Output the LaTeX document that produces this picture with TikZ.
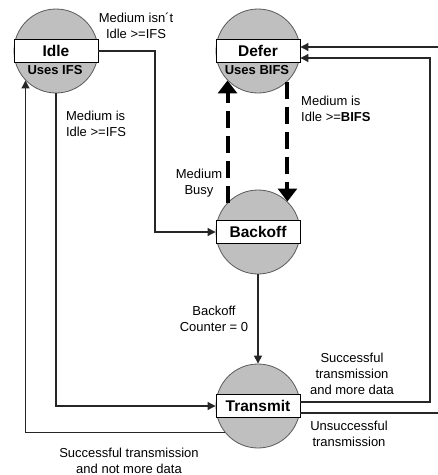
\documentclass[tikz,border=0pt]{standalone}
\usepackage{fontspec}
\setmainfont{Liberation Sans}
\usetikzlibrary{arrows.meta,calc}
\begin{document}
\begin{tikzpicture}[x=1pt,y=-1pt,
 state/.style={circle,draw=black!65,fill=black!25,line width=0.8pt,minimum size=84pt,inner sep=0},
 box/.style={draw=black,fill=white,line width=0.9pt,minimum width=84pt,minimum height=23pt,inner sep=0,font=\bfseries\fontsize{15.5}{18}\selectfont},
 sub/.style={font=\bfseries\fontsize{13}{15}\selectfont,inner sep=0},
 lbl/.style={font=\fontsize{13}{16}\selectfont,align=center,inner sep=0},
 conn/.style={draw=black!85,line width=1.1pt,-{Triangle[length=8pt,width=8pt]}},
 plain/.style={draw=black!85,line width=1.1pt},
 dashline/.style={draw=black,line width=4pt,dash pattern=on 17pt off 8pt,-{Triangle[length=13pt,width=19pt]}}]
\useasboundingbox (0,0) rectangle (438,475);
\fill[white] (0,0) rectangle (438,475);
% states
\node[state] (idle) at (56,51) {};
\node[state] (defer) at (258,51) {};
\node[state] (backoff) at (258,232) {};
\node[state] (transmit) at (258,406) {};
\node[box] (idlebox) at (56,51) {Idle};
\node[box] (deferbox) at (258,51) {Defer};
\node[box] (backbox) at (258,232) {Backoff};
\node[box] (transbox) at (258,406) {Transmit};
\node[sub] (idlesub) at (55,70) {Uses IFS};
\node[sub] (defersub) at (257,70) {Uses BIFS};
% labels
\node[lbl] (l1) at (136,26) {Medium isn´t\\Idle >=IFS};
\node[lbl,align=left] (l2) at (96,124) {Medium is\\Idle >=IFS};
\node[lbl,align=left,anchor=west] (l3) at (301,109) {Medium is\\Idle >=\textbf{BIFS}};
\node[lbl] (l4) at (199,183) {Medium\\Busy};
\node[lbl] (l5) at (214,319) {Backoff\\Counter = 0};
\node[lbl] (l6) at (352,374) {Successful\\transmission\\and more data};
\node[lbl] (l7) at (349,434) {Unsuccessful\\transmission};
\node[lbl] (l8) at (129,461) {Successful transmission\\and not more data};
% connectors
\coordinate (cx1) at (155,0);
\draw[conn] (idlebox.east) -| (cx1 |- backbox.west) -- (backbox.west);
\draw[conn] (idle.south) |- (transbox.west);
\draw[conn] (transmit.-141) -| (idle.-136);
\coordinate (tUp) at ([yshift=4pt]transbox.east);
\coordinate (tLo) at ([yshift=-7pt]transbox.east);
\coordinate (dUp) at ([yshift=4pt]deferbox.east);
\coordinate (dLo) at ([yshift=-7pt]deferbox.east);
\coordinate (rx) at (430,0);
\coordinate (ex) at (438,0);
\draw[conn] (tUp) -| (rx |- dLo) -- (dLo);
\draw[plain] (tLo) -- (ex |- tLo);
\draw[conn] (ex |- dUp) -- (dUp);
\draw[conn] (backoff.south) -- (transmit.north);
\draw[dashline] (backoff.136) -- (defer.-136);
\draw[dashline] (defer.-46) -- (backoff.46);
\end{tikzpicture}
\end{document}
